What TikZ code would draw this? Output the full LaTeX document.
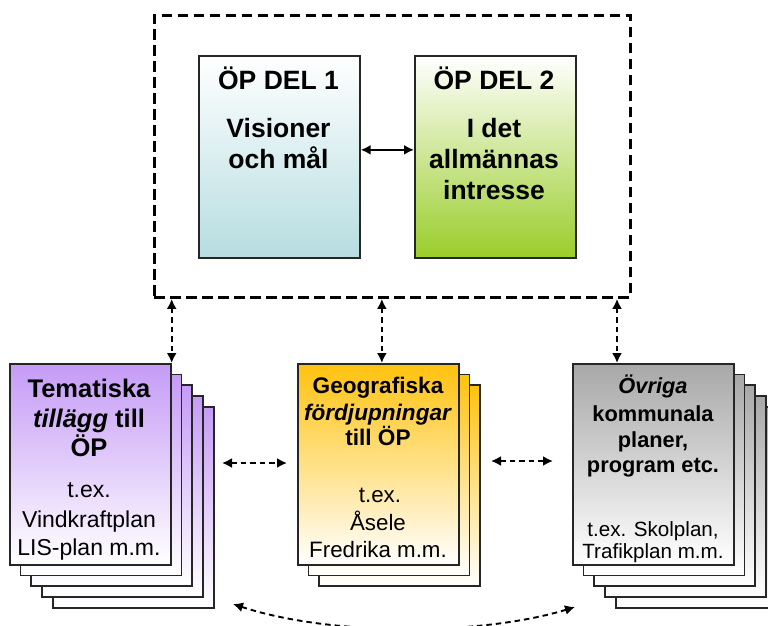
\documentclass[tikz,border=0pt]{standalone}
\usepackage{fontspec}
\setmainfont{Liberation Sans}
\usetikzlibrary{arrows.meta}
\definecolor{blueb}{HTML}{B6DDE1}
\definecolor{greenb}{HTML}{9ACD2A}
\definecolor{purp}{HTML}{C59BF6}
\definecolor{gold}{HTML}{FFC20E}
\definecolor{greyt}{HTML}{A8A8A8}
\definecolor{edge}{HTML}{262626}
\begin{document}
\begin{tikzpicture}[x=1pt,y=-1pt,
  page/.style={draw=edge, line width=1.7pt, minimum width=161pt, minimum height=201pt, inner sep=0pt, anchor=north west},
  ppage/.style={page, top color=purp, bottom color=white},
  gpage/.style={page, top color=gold, bottom color=white},
  rpage/.style={page, top color=greyt, bottom color=white},
  topbox/.style={draw=edge, line width=1.7pt, minimum width=161pt, minimum height=202pt, inner sep=0pt, anchor=north west},
  darr/.style={line width=1.9pt, dash pattern=on 5.5pt off 4pt, {Latex[length=10pt,width=10pt]}-{Latex[length=10pt,width=10pt]}},
  txb/.style={anchor=base, inner sep=0pt, font=\fontsize{26.5}{30}\selectfont\bfseries},
  txl/.style={anchor=base, inner sep=0pt, font=\fontsize{25.5}{30}\selectfont\bfseries},
  txlr/.style={anchor=base, inner sep=0pt, font=\fontsize{23}{28}\selectfont},
  txm/.style={anchor=base, inner sep=0pt, font=\fontsize{22.6}{26}\selectfont\bfseries},
  txmr/.style={anchor=base, inner sep=0pt, font=\fontsize{22.3}{28}\selectfont},
  txr/.style={anchor=base, inner sep=0pt, font=\fontsize{21.8}{26}\selectfont\bfseries},
  txrr/.style={anchor=base, inner sep=0pt, font=\fontsize{20.6}{24}\selectfont}]
\useasboundingbox (0,0) rectangle (768,625);
\clip (0,0) rectangle (768,625);

% frame
\node[draw=black, line width=2.9pt, dash pattern=on 10.5pt off 5.5pt, minimum width=476pt, minimum height=282pt, inner sep=0pt, anchor=north west] (frame) at (153,14) {};

% top boxes
\node[topbox, top color=white, bottom color=blueb] (b1) at (198,55) {};
\node[topbox, top color=white, bottom color=greenb] (b2) at (414,55) {};
\draw[line width=1.9pt, {Latex[length=10pt,width=10pt]}-{Latex[length=10pt,width=10pt]}] ([yshift=7pt]b1.east) -- ([yshift=7pt]b2.west);

\node[txb] (t11) at (278.5,89) {ÖP DEL 1};
\node[txb] (t12) at (278.5,137) {Visioner};
\node[txb] (t13) at (278.5,168) {och mål};
\node[txb] (t21) at (494,89) {ÖP DEL 2};
\node[txb] (t22) at (494,137) {I det};
\node[txb] (t23) at (494,168) {allmännas};
\node[txb] (t24) at (494,199) {intresse};

% left stack
\foreach \k in {4,3,2,1} \node[ppage] (lp\k) at ({9+10.7*\k},{363+10.7*\k}) {};
\node[ppage] (lp0) at (9,363) {};
\node[txl] (l1) at (89,397) {Tematiska};
\node[txl] (l2) at (89,427) {\textit{tillägg} till};
\node[txl] (l3) at (89,456) {ÖP};
\node[txlr] (l4) at (89,497) {t.ex.};
\node[txlr] (l5) at (89,527) {Vindkraftplan};
\node[txlr] (l6) at (89,555) {LIS-plan m.m.};

% middle stack
\foreach \k in {2,1} \node[gpage] (mp\k) at ({297+10.7*\k},{363+10.7*\k}) {};
\node[gpage] (mp0) at (297,363) {};
\node[txm] (m1) at (378,393) {Geografiska};
\node[txm] (m2) at (378,420) {\textit{fördjupningar}};
\node[txm] (m3) at (378,445) {till ÖP};
\node[txmr] (m4) at (380,502) {t.ex.};
\node[txmr] (m5) at (378,530) {Åsele};
\node[txmr] (m6) at (378,557) {Fredrika m.m.};

% right stack
\foreach \k in {4,3,2,1} \node[rpage] (rp\k) at ({572+10.7*\k},{363+10.7*\k}) {};
\node[rpage] (rp0) at (572,363) {};
\node[txr] (r1) at (653,393) {\textit{Övriga}};
\node[txr] (r2) at (653,421) {kommunala};
\node[txr] (r3) at (653,447) {planer,};
\node[txr] (r4) at (653,472) {program etc.};
\node[txrr] (r5) at (653,536) {t.ex. Skolplan,};
\node[txrr] (r6) at (653,558) {Trafikplan m.m.};

% connectors
\coordinate (f1) at (frame.south -| lp0.north east);
\draw[darr] (f1) -- (lp0.north east);
\coordinate (a2) at ([xshift=3.5pt]mp0.north);
\coordinate (f2) at (frame.south -| a2);
\draw[darr] (f2) -- (a2);
\coordinate (a3) at (617,363);
\coordinate (f3) at (frame.south -| a3);
\draw[darr] (f3) -- (a3);

\coordinate (h1a) at (222,463);
\coordinate (h1b) at (287,463);
\draw[darr] (h1a) -- (h1b);
\coordinate (h2a) at (491,461);
\coordinate (h2b) at (553,461);
\draw[darr] (h2a) -- (h2b);

\coordinate (c1) at (233,604);
\coordinate (c2) at (575,607);
\draw[darr] (c1) .. controls (330,636) and (480,636) .. (c2);
\end{tikzpicture}
\end{document}
